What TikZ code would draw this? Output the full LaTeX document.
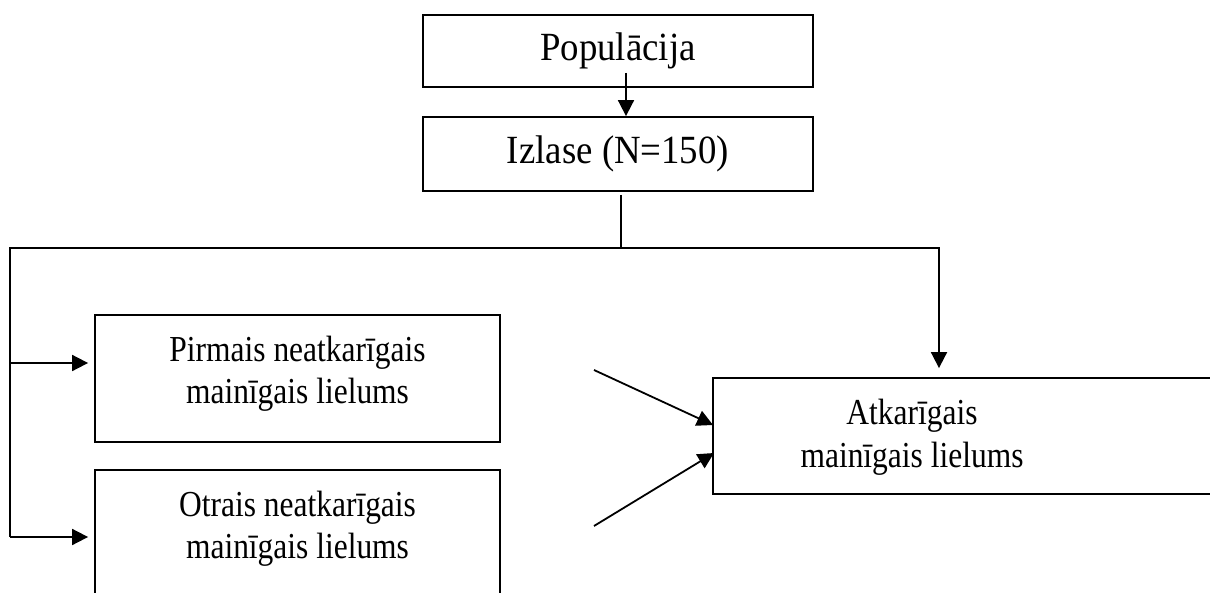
\documentclass[tikz,border=0pt]{standalone}
\usepackage{fontspec}
\setmainfont{Liberation Serif}
\newfontfamily\bigfnt[FakeStretch=0.92]{Liberation Serif}
\newfontfamily\smallfnt[FakeStretch=0.86]{Liberation Serif}
\usetikzlibrary{arrows.meta}
\begin{document}
\begin{tikzpicture}[x=0.5pt,y=-0.5pt, line width=0.9pt,
  box/.style={draw, line width=0.9pt, inner sep=0pt, align=center},
  arr/.style={-{Triangle[length=8pt,width=8pt]}},
  big/.style={font=\bigfnt\fontsize{20}{22}\selectfont},
  small/.style={font=\smallfnt\fontsize{18.3}{21}\selectfont},
  lbl/.style={small, align=center, inner sep=0pt}]
\useasboundingbox (0,0) rectangle (1210,593);
\clip (0,0) rectangle (1210,593);
% boxes
\node[box, big, minimum width=195pt, minimum height=36pt] (pop) at (618,51) {Populācija};
\node[box, big, minimum width=195pt, minimum height=37pt] (izl) at (618,154) {Izlase (N=150)};
\node[box, minimum width=202.5pt, minimum height=63.5pt] (b1) at (297.5,378.5) {};
\node[box, minimum width=202.5pt, minimum height=63.5pt] (b2) at (297.5,533.5) {};
\node[box, minimum width=263.5pt, minimum height=58pt] (atk) at (976.5,436) {};
\node[lbl] (b1t) at (297.5,374) {Pirmais neatkarīgais\\mainīgais lielums};
\node[lbl] (b2t) at (297.5,529) {Otrais neatkarīgais\\mainīgais lielums};
\node[lbl, font=\smallfnt\fontsize{18.3}{21.7}\selectfont] (atkt) at (912,437) {Atkarīgais\\mainīgais lielums};
% coordinates
\coordinate (popin) at (626,73);
\coordinate (izlb) at (621,195);
\coordinate (j) at (621,248);
\coordinate (lt) at (10,248);
\coordinate (lm) at (10,363);
\coordinate (lb) at (10,537);
\coordinate (rt) at (939,248);
\coordinate (d1) at (594,370);
\coordinate (t1) at (713,425);
\coordinate (d2) at (594,526);
\coordinate (t2) at (714,453);
% connectors
\draw[arr] (popin) -- (popin |- izl.north);
\draw (izlb) -- (j);
\draw (j) -- (lt) -- (lb);
\draw[arr] (lm) -- ([xshift=-3pt]b1.west |- lm);
\draw[arr] (lb) -- ([xshift=-3pt]b2.west |- lb);
\draw[arr] (j) -- (rt) -- ([yshift=4.5pt]atk.north -| rt);
\draw[arr] (d1) -- (t1);
\draw[arr] (d2) -- (t2);
\end{tikzpicture}
\end{document}
